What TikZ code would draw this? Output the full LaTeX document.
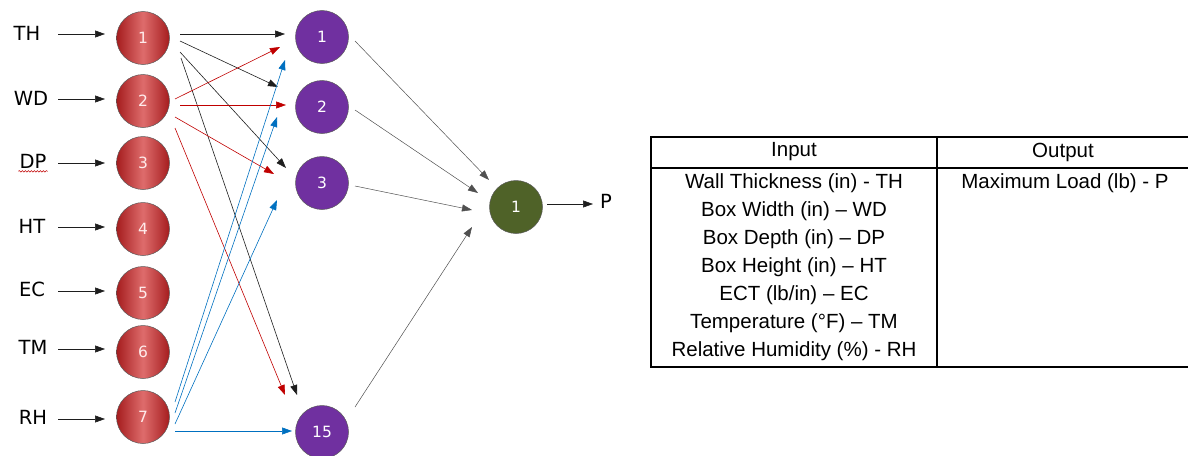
\documentclass[tikz,border=0pt]{standalone}
\usepackage{fontspec}
\setmainfont{Liberation Sans}
\newfontfamily\vfont{DejaVu Sans}
\usetikzlibrary{arrows.meta,calc,decorations.pathmorphing}
\definecolor{rdark}{RGB}{165,28,30}
\definecolor{rlight}{RGB}{222,108,108}
\definecolor{npurple}{RGB}{112,48,160}
\definecolor{ngreen}{RGB}{79,98,40}
\definecolor{ared}{RGB}{192,0,0}
\definecolor{ablue}{RGB}{0,112,192}
\definecolor{aline}{RGB}{30,30,30}
\definecolor{agray}{RGB}{80,80,80}
\begin{document}
\begin{tikzpicture}[x=1pt,y=-1pt,
  neuron/.style={circle,minimum size=53pt,inner sep=0pt,draw=black!65,line width=0.5pt,
    font=\vfont\fontsize{15.5}{15.5}\selectfont,text=white},
  inneuron/.style={neuron,left color=rdark,right color=rdark,middle color=rlight,text=red!8},
  hidneuron/.style={neuron,fill=npurple},
  outneuron/.style={neuron,fill=ngreen},
  lab/.style={font=\vfont\fontsize{19.5}{19.5}\selectfont,inner sep=0pt},
  arr/.style={-{Triangle[length=10pt,width=7pt]},line width=0.6pt,color=aline},
  arrr/.style={arr,color=ared},
  arrb/.style={arr,color=ablue},
  arrg/.style={arr,color=agray,line width=0.5pt},
  tline/.style={line width=1.8pt,color=black},
  ttext/.style={font=\fontsize{20.5}{20.5}\selectfont,inner sep=0pt,anchor=center}
]
\useasboundingbox (0,0) rectangle (1188,455);

% input neurons
\node[inneuron] (r1) at (143,38) {1};
\node[inneuron] (r2) at (143,101) {2};
\node[inneuron] (r3) at (143,163) {3};
\node[inneuron] (r4) at (143,229) {4};
\node[inneuron] (r5) at (143,293) {5};
\node[inneuron] (r6) at (143,352) {6};
\node[inneuron] (r7) at (143,417) {7};

% hidden neurons
\node[hidneuron] (p1) at (322,37) {1};
\node[hidneuron] (p2) at (322,107) {2};
\node[hidneuron] (p3) at (322,183) {3};
\node[hidneuron] (p15) at (322,432) {15};

% output neuron
\node[outneuron] (g) at (516,207) {1};

% labels
\node[lab] (lTH) at (27,33) {TH};
\node[lab] (lWD) at (31,98) {WD};
\node[lab] (lDP) at (33,161) {DP};
\node[lab] (lHT) at (32,226) {HT};
\node[lab] (lEC) at (32,289) {EC};
\node[lab] (lTM) at (33,347) {TM};
\node[lab] (lRH) at (33,417) {RH};
\node[lab] (lP) at (606,201) {P};

\draw[ared,line width=0.5pt,decorate,decoration={snake,amplitude=0.8pt,segment length=3pt}]
  ($(lDP.south west)+(-1,3)$) -- ($(lDP.south east)+(1,3)$);

% input arrows
\draw[arr] ($(r1)+(-85,-4)$) -- ($(r1)+(-38,-4)$);
\draw[arr] ($(r2)+(-85,-2)$) -- ($(r2)+(-38,-2)$);
\draw[arr] ($(r3)+(-85,0)$) -- ($(r3)+(-38,0)$);
\draw[arr] ($(r4)+(-85,-2)$) -- ($(r4)+(-38,-2)$);
\draw[arr] ($(r5)+(-85,-2)$) -- ($(r5)+(-38,-2)$);
\draw[arr] ($(r6)+(-85,-3)$) -- ($(r6)+(-38,-3)$);
\draw[arr] ($(r7)+(-85,2)$) -- ($(r7)+(-38,2)$);

% from input 1 (black)
\draw[arr] ($(r1)+(37,-4)$) -- ($(p1)+(-37,-3)$);
\draw[arr] ($(r1)+(37,3)$) -- ($(p2)+(-44,-20)$);
\draw[arr] ($(r1)+(37,14)$) -- ($(p3)+(-36,-15)$);
\draw[arr] ($(r1)+(38,20)$) -- ($(p15)+(-25,-37)$);

% from input 2 (red)
\draw[arrr] ($(r2)+(32,-2)$) -- ($(p1)+(-42,10)$);
\draw[arrr] ($(r2)+(37,4)$) -- ($(p2)+(-36,-2)$);
\draw[arrr] ($(r2)+(32,16)$) -- ($(p3)+(-48,-9)$);
\draw[arrr] ($(r2)+(32,27)$) -- ($(p15)+(-37,-37)$);

% from input 7 (blue)
\draw[arrb] ($(r7)+(32,-15)$) -- ($(p1)+(-37,23)$);
\draw[arrb] ($(r7)+(32,-4)$) -- ($(p2)+(-45,10)$);
\draw[arrb] ($(r7)+(32,7)$) -- ($(p3)+(-45,17)$);
\draw[arrb] ($(r7)+(32,14)$) -- ($(p15)+(-30,-1)$);

% hidden to output
\draw[arrg] ($(p1)+(33,4)$) -- ($(g)+(-27,-27)$);
\draw[arrg] ($(p2)+(33,3)$) -- ($(g)+(-38,-14)$);
\draw[arrg] ($(p3)+(33,3)$) -- ($(g)+(-44,3)$);
\draw[arrg] ($(p15)+(33,-25)$) -- ($(g)+(-44,20)$);

% output arrow
\draw[arr] ($(g)+(31,-3)$) -- ($(g)+(77,-3)$) coordinate (pend);

% table
\draw[tline] (651,137) -- (1188,137);
\draw[tline] (651,168) -- (1188,168);
\draw[tline] (651,367) -- (1188,367);
\draw[tline] (651,136.1) -- (651,367.9);
\draw[tline] (937,136.1) -- (937,367.9);

\node[ttext] (hin) at (794,152) {Input};
\node[ttext] (hout) at (1063,152) {Output};
\node[ttext] (i1) at (794,183) {Wall Thickness (in) - TH};
\node[ttext] (i2) at (794,211) {Box Width (in) – WD};
\node[ttext] (i3) at (794,239) {Box Depth (in) – DP};
\node[ttext] (i4) at (794,267) {Box Height (in) – HT};
\node[ttext] (i5) at (794,295) {ECT (lb/in) – EC};
\node[ttext] (i6) at (794,323) {Temperature (°F) – TM};
\node[ttext] (i7) at (794,351) {Relative Humidity (\%) - RH};
\node[ttext] (o1) at (1065,183) {Maximum Load (lb) - P};
\end{tikzpicture}
\end{document}
